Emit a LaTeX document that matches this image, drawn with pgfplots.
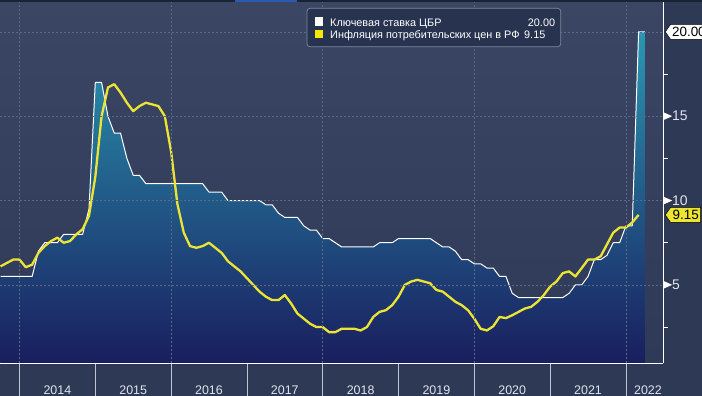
\documentclass[border=0pt]{standalone}
\usepackage{fontspec}
\setmainfont{Liberation Sans}
\usepackage{pgfplots}
\pgfplotsset{compat=1.18}
\usepackage{pgfplotstable}
\usetikzlibrary{shapes.symbols}

\definecolor{bgout}{RGB}{46,58,85}
\definecolor{plottop}{RGB}{59,70,100}
\definecolor{plotbot}{RGB}{47,58,88}
\definecolor{filltop}{RGB}{42,151,178}
\definecolor{fillbot}{RGB}{25,30,94}
\definecolor{gridcol}{RGB}{92,104,134}
\definecolor{sepcol}{RGB}{190,196,208}
\definecolor{ticktext}{RGB}{225,228,236}
\definecolor{infl}{RGB}{236,228,52}
\definecolor{legyellow}{RGB}{245,232,0}
\definecolor{legfill}{RGB}{40,51,80}
\definecolor{legborder}{RGB}{125,135,158}
\definecolor{stripdark}{RGB}{27,34,52}
\definecolor{stripblue}{RGB}{40,90,175}

\newcommand{\tri}{\tikz[baseline=-0.65ex]\fill[white] (0,-4bp)--(9bp,0)--(0,4bp)--cycle;}

% CBR key rate, month-end values
\pgfplotstableread{
x y
2013.750 5.5
2013.833 5.5
2013.917 5.5
2014.000 5.5
2014.083 5.5
2014.167 5.5
2014.250 7.0
2014.333 7.5
2014.417 7.5
2014.500 7.5
2014.583 8.0
2014.667 8.0
2014.750 8.0
2014.833 8.0
2014.917 9.5
2015.000 17.0
2015.083 17.0
2015.167 15.0
2015.250 14.0
2015.333 14.0
2015.417 12.5
2015.500 11.5
2015.583 11.5
2015.667 11.0
2015.750 11.0
2015.833 11.0
2015.917 11.0
2016.000 11.0
2016.083 11.0
2016.167 11.0
2016.250 11.0
2016.333 11.0
2016.417 11.0
2016.500 10.5
2016.583 10.5
2016.667 10.5
2016.750 10.0
2016.833 10.0
2016.917 10.0
2017.000 10.0
2017.083 10.0
2017.167 10.0
2017.250 9.75
2017.333 9.75
2017.417 9.25
2017.500 9.0
2017.583 9.0
2017.667 9.0
2017.750 8.5
2017.833 8.25
2017.917 8.25
2018.000 7.75
2018.083 7.75
2018.167 7.5
2018.250 7.25
2018.333 7.25
2018.417 7.25
2018.500 7.25
2018.583 7.25
2018.667 7.25
2018.750 7.5
2018.833 7.5
2018.917 7.5
2019.000 7.75
2019.083 7.75
2019.167 7.75
2019.250 7.75
2019.333 7.75
2019.417 7.75
2019.500 7.5
2019.583 7.25
2019.667 7.25
2019.750 7.0
2019.833 6.5
2019.917 6.5
2020.000 6.25
2020.083 6.25
2020.167 6.0
2020.250 6.0
2020.333 5.5
2020.417 5.5
2020.500 4.5
2020.583 4.25
2020.667 4.25
2020.750 4.25
2020.833 4.25
2020.917 4.25
2021.000 4.25
2021.083 4.25
2021.167 4.25
2021.250 4.5
2021.333 5.0
2021.417 5.0
2021.500 5.5
2021.583 6.5
2021.667 6.5
2021.750 6.75
2021.833 7.5
2021.917 7.5
2022.000 8.5
2022.083 8.5
2022.167 20.0
2022.250 20.0
}\keyrate

% CPI inflation y/y, monthly
\pgfplotstableread{
x y
2013.750 6.1
2013.833 6.3
2013.917 6.5
2014.000 6.5
2014.083 6.05
2014.167 6.2
2014.250 6.9
2014.333 7.3
2014.417 7.6
2014.500 7.8
2014.583 7.5
2014.667 7.6
2014.750 8.0
2014.833 8.3
2014.917 9.1
2015.000 11.4
2015.083 15.0
2015.167 16.7
2015.250 16.9
2015.333 16.4
2015.417 15.8
2015.500 15.3
2015.583 15.6
2015.667 15.8
2015.750 15.7
2015.833 15.6
2015.917 15.0
2016.000 12.9
2016.083 9.8
2016.167 8.1
2016.250 7.3
2016.333 7.2
2016.417 7.3
2016.500 7.5
2016.583 7.2
2016.667 6.9
2016.750 6.4
2016.833 6.1
2016.917 5.8
2017.000 5.4
2017.083 5.0
2017.167 4.6
2017.250 4.3
2017.333 4.1
2017.417 4.1
2017.500 4.4
2017.583 3.9
2017.667 3.3
2017.750 3.0
2017.833 2.7
2017.917 2.5
2018.000 2.5
2018.083 2.2
2018.167 2.2
2018.250 2.4
2018.333 2.4
2018.417 2.4
2018.500 2.3
2018.583 2.5
2018.667 3.1
2018.750 3.4
2018.833 3.5
2018.917 3.8
2019.000 4.3
2019.083 5.0
2019.167 5.2
2019.250 5.3
2019.333 5.2
2019.417 5.1
2019.500 4.7
2019.583 4.6
2019.667 4.3
2019.750 4.0
2019.833 3.8
2019.917 3.5
2020.000 3.0
2020.083 2.4
2020.167 2.3
2020.250 2.55
2020.333 3.1
2020.417 3.03
2020.500 3.2
2020.583 3.4
2020.667 3.6
2020.750 3.7
2020.833 4.0
2020.917 4.4
2021.000 4.9
2021.083 5.2
2021.167 5.7
2021.250 5.8
2021.333 5.5
2021.417 6.0
2021.500 6.5
2021.583 6.5
2021.667 6.7
2021.750 7.4
2021.833 8.1
2021.917 8.4
2022.000 8.4
2022.083 8.7
2022.167 9.15
}\inflation

\begin{document}
\begin{tikzpicture}
\path[use as bounding box] (0,0) rectangle (702bp,396bp);
\fill[bgout] (0,0) rectangle (702bp,396bp);
\begin{axis}[
  at={(0bp,33bp)}, anchor=south west,
  scale only axis, width=663bp, height=363bp,
  xmin=2013.743, xmax=2022.489, ymin=0.37, ymax=21.89,
  axis x line*=bottom, axis y line*=right,
  axis line style={white, line width=1bp, -},
  axis background/.style={shade, top color=plottop, bottom color=plotbot},
  axis on top,
  tick align=outside,
  xtick={2014.5,2015.5,2016.5,2017.5,2018.5,2019.5,2020.5,2021.5,2022.29},
  xticklabels={2014,2015,2016,2017,2018,2019,2020,2021,2022},
  minor xtick={2014,2015,2016,2017,2018,2019,2020,2021,2022},
  major tick length=0pt,
  minor tick length=33bp,
  minor tick style={draw=sepcol, line width=0.8bp},
  extra x ticks={2014,2016,2018,2020,2022},
  extra x tick labels={},
  extra x tick style={grid=major},
  ytick={5,10,15,20},
  yticklabels={{\tri5},{\tri10},{\tri15},{}},
  ymajorgrids,
  grid style={draw=gridcol, line width=0.6bp, dash pattern=on 2bp off 2bp},
  extra y ticks={2.5,7.5,12.5,17.5},
  extra y tick labels={},
  extra y tick style={major tick length=5bp, ymajorgrids=false, major tick style={draw=white, line width=0.8bp}},
  yticklabel pos=right,
  /pgf/number format/assume math mode=true,
  ticklabel style={text=ticktext},
  xticklabel style={font=\fontsize{12.5}{13}\selectfont, anchor=base, yshift=-31bp},
  yticklabel style={font=\fontsize{14}{14}\selectfont, anchor=west, inner sep=0pt},
]
\addplot[draw=none, top color=filltop, bottom color=fillbot] table[x=x,y=y] {\keyrate} \closedcycle;
\addplot[white, line width=1bp, line join=round] table[x=x,y=y] {\keyrate};
\addplot[infl, line width=2.3bp, line join=round] table[x=x,y=y] {\inflation};
\coordinate (p20) at (axis cs:2022.489,20);
\coordinate (p915) at (axis cs:2022.489,9.15);
\end{axis}
% top strip
\fill[stripdark] (0,394bp) rectangle (702bp,396bp);
\fill[stripblue] (235bp,394bp) rectangle (297bp,396bp);
% value labels
\node[signal, signal to=west, signal pointer angle=110, fill=white, draw=black, line width=0.5bp,
  text=black, inner xsep=1.5bp, inner ysep=1.5bp, minimum height=15bp,
  font=\fontsize{13.5}{14}\selectfont, anchor=west] at ([xshift=2bp]p20) {20.00};
\node[signal, signal to=west, signal pointer angle=110, fill=infl, draw=black, line width=0.5bp,
  text=black, inner xsep=2bp, inner ysep=1.5bp, minimum height=15bp,
  font=\fontsize{13.5}{14}\selectfont, anchor=west] at ([xshift=2bp]p915) {9.15};
% legend
\draw[draw=legborder, fill=legfill, rounded corners=3bp, line width=0.7bp] (307bp,349.3bp) rectangle (560.7bp,387.7bp);
\fill[white] (315bp,370.3bp) rectangle (322.7bp,378.5bp);
\fill[legyellow] (315bp,357.7bp) rectangle (322.7bp,366bp);
\node[anchor=base west, inner sep=0pt, text=white, font=\fontsize{10.9}{12}\selectfont] at (330bp,369.3bp) {Ключевая ставка ЦБР};
\node[anchor=base west, inner sep=0pt, text=white, font=\fontsize{10.9}{12}\selectfont] at (330bp,357.7bp) {Инфляция потребительских цен в РФ};
\node[anchor=base west, inner sep=0pt, text=white, font=\fontsize{10.9}{12}\selectfont] at (527.7bp,369.3bp) {20.00};
\node[anchor=base west, inner sep=0pt, text=white, font=\fontsize{10.9}{12}\selectfont] at (524bp,357.7bp) {9.15};
\end{tikzpicture}
\end{document}
